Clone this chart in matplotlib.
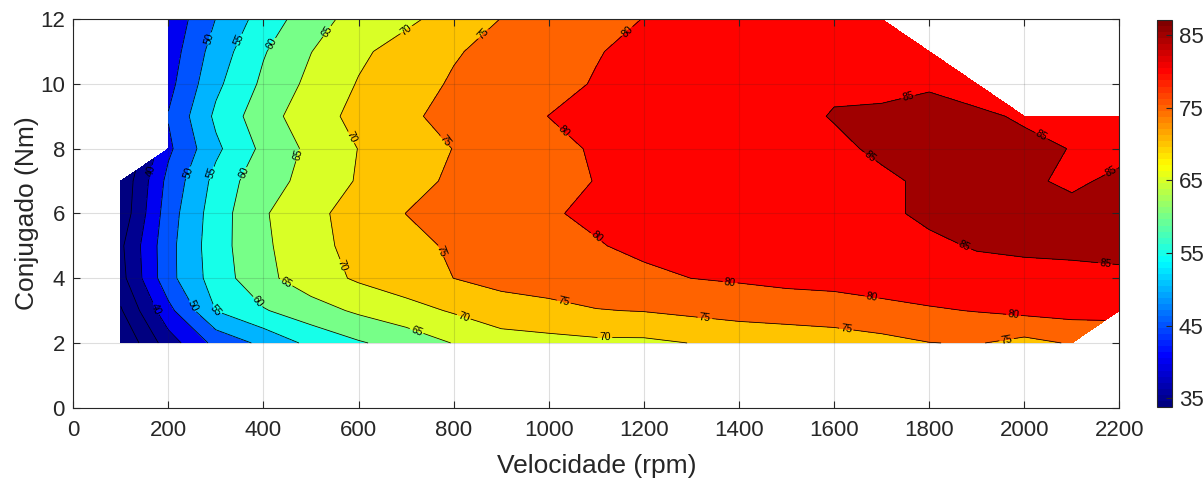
import numpy as np
import matplotlib
matplotlib.use('Agg')
import matplotlib.pyplot as plt
from matplotlib.colors import Normalize, ListedColormap
from matplotlib.cm import ScalarMappable

plt.rcParams['font.family'] = ['Liberation Sans', 'DejaVu Sans']

# grade de medição: velocidade (rpm) x conjugado (Nm), rendimento em %
speed = [100, 200, 300, 400, 500, 600, 700, 800, 900, 1000, 1100,
         1200, 1300, 1400, 1500, 1600, 1700, 1800, 1900, 2000, 2100, 2200]
torque = [2, 3, 4, 5, 6, 7, 8, 9, 10, 11, 12]

eta_2 = [25.3, 37.6, 46.5, 51.2, 56.3, 59.5, 62.0, 65.2, 67.8, 68.5, 69.0, 69.0, 70.1, 71.8, 72.3, 72.8, 73.6, 74.9, 75.3, 73.6, 75.4, None]
eta_3 = [29.5, 43.5, 55.1, 59.6, 62.9, 65.8, 68.2, 70.5, 72.8, 73.5, 74.8, 75.2, 76.1, 76.6, 77.0, 77.4, 78.5, 79.5, 80.2, 81.2, 81.8, 82.0]
eta_4 = [33.3, 48.4, 57.4, 63.7, 67.7, 70.7, 72.8, 75.02, 76.5, 77.5, 78.0, 79.0, 80.02, 80.6, 81.4, 81.8, 82.5, 83.0, 84.0, 83.9, 84.0, 84.5]
eta_5 = [34.1, 48.4, 57.9, 64.1, 68.5, 71.5, 73.7, 75.6, 77.0, 78.3, 79.7, 81.0, 82.0, 82.8, 83.5, 84.0, 84.1, 84.5, 85.2, 85.6, 85.8, 85.7]
eta_6 = [31.5, 47.7, 57.6, 64.5, 68.7, 72.0, 75.05, 76.5, 78.0, 79.6, 80.8, 81.8, 82.6, 83.3, 83.9, 84.4, 84.5, 85.5, 86.4, 86.3, 85.7, 86.0]
eta_7 = [31.0, 46.5, 56.5, 63.5, 66.2, 70.5, 73.3, 75.8, 77.5, 79.0, 80.1, 81.2, 82.2, 83.0, 83.7, 84.3, 84.4, 85.6, 86.2, 85.4, 84.6, 85.5]
eta_8 = [None, 44.0, 54.0, 61.2, 66.2, 70.1, 72.6, 75.1, 76.9, 78.7, 80.5, 81.3, 82.0, 82.8, 83.5, 84.3, 85.6, 86.8, 86.5, 85.8, 84.9, 84.3]
eta_9 = [None, 45.3, 56.0, 63.0, 67.8, 71.4, 74.2, 76.4, 78.2, 80.05, 81.0, 82.0, 82.7, 83.3, 84.0, 85.2, 85.8, 86.5, 85.6, 84.6, 84.0, 84.2]
eta_10 = [None, 43.4, 53.9, 61.0, 66.3, 70.3, 73.1, 75.5, 77.1, 78.7, 80.3, 81.0, 81.7, 82.3, 82.8, 84.5, 83.8, 84.5, 83.5, None, None, None]
eta_11 = [None, 42.3, 52.25, 59.6, 64.9, 69.1, 72.0, 74.6, 76.4, 78.1, 79.75, 81.2, 81.8, 82.3, 82.8, 83.2, 83.6, 83.8, None, None, None, None]
eta_12 = [None, 41.3, 50.1, 57.2, 62.8, 67.0, 69.0, 72.0, 75.1, 76.7, 78.4, 80.1, 81.0, 81.6, 82.1, 82.5, 82.9, None, None, None, None, None]

levels = [30, 35, 40, 45, 50, 55, 60, 65, 70, 75, 80, 85]
cbar_ticks = [35, 45, 55, 65, 75, 85]
clim = (33.8, 87.1)

# posições dos rótulos das curvas (rpm, Nm)
label_pos = [(287, 11.4), (351, 11.35), (417, 11.25), (529, 11.66), (708, 11.55),
             (862, 11.55), (1171, 11.55), (578, 8.31), (778, 8.21), (1031, 8.52),
             (473, 7.8), (238, 7.28), (285, 7.28), (358, 7.25), (165, 7.3),
             (554, 4.35), (761, 4.77), (1101, 5.28), (171, 3.05), (245, 3.1),
             (297, 3.0), (390, 3.3), (439, 3.7), (718, 2.24), (820, 2.76),
             (1118, 2.2), (1031, 3.24), (1328, 2.73), (1381, 3.84), (1679, 3.35),
             (1977, 2.81), (1626, 2.45), (1963, 2.09), (1756, 9.57), (2037, 8.42),
             (1675, 7.75), (1872, 4.92), (2170, 4.38), (2180, 7.34)]

Z = np.array([eta_2, eta_3, eta_4, eta_5, eta_6, eta_7, eta_8, eta_9,
              eta_10, eta_11, eta_12], dtype=float)
Z = np.ma.masked_invalid(Z)
X, Y = np.meshgrid(speed, torque)

# jet no estilo do MATLAB (64 cores)
t = np.linspace(0, 1, 64)
r = np.clip(np.minimum(4 * t - 1.5, -4 * t + 4.5), 0, 1)
g = np.clip(np.minimum(4 * t - 0.5, -4 * t + 3.5), 0, 1)
b = np.clip(np.minimum(4 * t + 0.5, -4 * t + 2.5), 0, 1)
cmap = ListedColormap(np.column_stack([r, g, b]))
norm = Normalize(vmin=clim[0], vmax=clim[1])

fill_levels = [Z.min() - 1] + levels + [Z.max() + 1]
fill_colors = [cmap(norm(v)) for v in fill_levels[:-1]]
fill_colors[0] = cmap(0.0)

fig = plt.figure(figsize=(12.03, 4.78), dpi=100)
ax = fig.add_axes([0.0609, 0.147, 0.8696, 0.813])

ax.contourf(X, Y, Z, levels=fill_levels, colors=fill_colors)
cs = ax.contour(X, Y, Z, levels=levels, colors='k', linewidths=0.55)
ax.clabel(cs, fmt='%g', fontsize=7.5, manual=label_pos, inline=True, inline_spacing=2)

txt = (0.15, 0.15, 0.15)
ax.set_xlim(0, 2200)
ax.set_ylim(0, 12)
ax.set_xticks(np.arange(0, 2201, 200))
ax.set_yticks(np.arange(0, 13, 2))
ax.grid(True, color=txt, alpha=0.15, linewidth=0.8)
ax.tick_params(direction='in', top=True, right=True, length=5, width=0.8,
               colors=txt, labelsize=16)
ax.tick_params(axis='x', pad=9)
ax.tick_params(axis='y', pad=6)
for s in ax.spines.values():
    s.set_color(txt)
    s.set_linewidth(0.8)
ax.set_xlabel('Velocidade (rpm)', fontsize=19, color=txt, labelpad=9)
ax.set_ylabel('Conjugado (Nm)', fontsize=19, color=txt, labelpad=1)

cax = fig.add_axes([0.9615, 0.149, 0.0125, 0.809])
cb = fig.colorbar(ScalarMappable(norm=norm, cmap=cmap), cax=cax)
cb.set_ticks(cbar_ticks)
cax.tick_params(direction='in', length=4, width=0.8, colors=txt, labelsize=16, pad=5)
cb.outline.set_edgecolor(txt)
cb.outline.set_linewidth(0.8)

plt.savefig('out.png', dpi=100)
